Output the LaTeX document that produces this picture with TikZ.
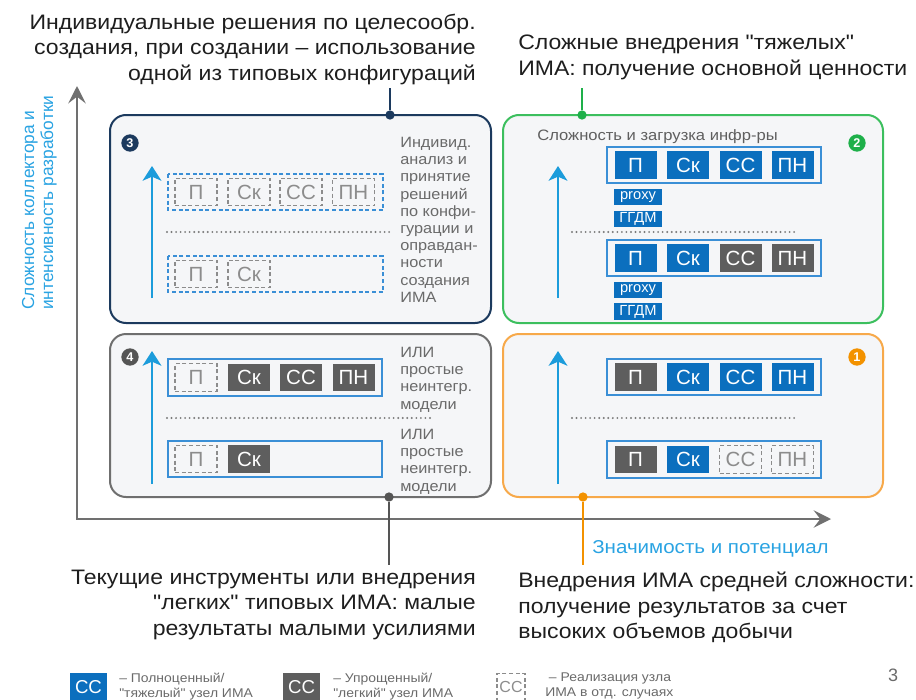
\documentclass[tikz,border=0pt]{standalone}
\usepackage{fontspec}
\setmainfont{Liberation Sans}[Ligatures=TeXOff]
\usetikzlibrary{arrows.meta}
\definecolor{navy}{HTML}{1C3A5E}
\definecolor{qgreen}{HTML}{3CBF5E}
\definecolor{badgegreen}{HTML}{1EB04A}
\definecolor{qgray}{HTML}{6F6F6F}
\definecolor{badgegray}{HTML}{555555}
\definecolor{qorange}{HTML}{F7A94A}
\definecolor{badgeorange}{HTML}{F39200}
\definecolor{boxfill}{HTML}{F5F6F8}
\definecolor{fillblue}{HTML}{0B6FBE}
\definecolor{fillgray}{HTML}{5E5E5E}
\definecolor{dashgray}{HTML}{8C8C8C}
\definecolor{frameblue}{HTML}{3A8FD6}
\definecolor{arrowblue}{HTML}{1C9CDB}
\definecolor{labelblue}{HTML}{2AA3E2}
\definecolor{axisgray}{HTML}{707070}
\definecolor{textdark}{HTML}{1E1E1E}
\definecolor{sidegray}{HTML}{6A6A6A}
\definecolor{dotgray}{HTML}{7A7A7A}
\tikzset{
  quad/.style={rounded corners=12pt, line width=1.5pt, fill=boxfill},
  cellb/.style={fill=fillblue, text=white, minimum width=31.5pt, minimum height=20.5pt, inner sep=0pt, font=\fontsize{15.4}{16}\selectfont},
  cellg/.style={cellb, fill=fillgray},
  celld/.style={draw=dashgray, dash pattern=on 3pt off 2pt, line width=0.9pt, text=dashgray, minimum width=31.5pt, minimum height=20.5pt, inner sep=0pt, font=\fontsize{15.4}{16}\selectfont},
  tagbox/.style={fill=fillblue, text=white, minimum width=36pt, minimum height=12.5pt, inner sep=0pt, font=\fontsize{11}{11}\selectfont},
  frame/.style={draw=frameblue, line width=1.1pt},
  dframe/.style={frame, dash pattern=on 3pt off 2pt},
  badge/.style={circle, inner sep=0pt, minimum size=13pt, text=white, font=\fontsize{9.5}{10}\selectfont\bfseries},
  uparrow/.style={draw=arrowblue, line width=1.9pt, -{Stealth[length=11pt,width=14pt,inset=3pt]}},
  dotline/.style={draw=dotgray, line width=1.6pt, line cap=round, dash pattern=on 0pt off 3.4pt},
  axis/.style={draw=axisgray, line width=1.8pt},
  title/.style={inner sep=0pt, text=textdark, xscale=1.1, font=\fontsize{15.7}{18.9}\selectfont},
  sidetext/.style={inner sep=0pt, text=sidegray, align=left, xscale=1.09, font=\fontsize{11.2}{12.9}\selectfont},
  dotnode/.style={circle, inner sep=0pt, minimum size=7pt},
  legtext/.style={inner sep=0pt, text=sidegray, align=left, xscale=1.1, font=\fontsize{9.5}{10.8}\selectfont},
  legcell/.style={minimum width=27.75pt, minimum height=21pt, inner sep=0pt, font=\fontsize{14}{14}\selectfont},
}
\begin{document}
\begin{tikzpicture}[x=0.75pt,y=-0.75pt]
\useasboundingbox (0,0) rectangle (916,699);

% quadrants
\draw[quad, draw=navy] (110,115) rectangle (491,323);
\draw[quad, draw=qgreen] (503,115) rectangle (883,323);
\draw[quad, draw=qgray] (110,334) rectangle (491,497);
\draw[quad, draw=qorange] (503,334) rectangle (883,497);

% axes
\coordinate (ytip) at (77,86);
\coordinate (origin) at (77,519);
\coordinate (xtip) at (831,519);
\draw[axis, {Stealth[length=13pt,width=13pt,inset=5pt]}-{Stealth[length=13pt,width=13pt,inset=5pt]}] (ytip) -- (origin) -- (xtip);

% badges
\node[badge, fill=navy] (b3) at (130,143) {3};
\node[badge, fill=badgegreen] (b2) at (857,143) {2};
\node[badge, fill=badgegray] (b4) at (130,357) {4};
\node[badge, fill=badgeorange] (b1) at (857,357) {1};

% blue arrows
\coordinate (a3s) at (152,298); \coordinate (a3e) at (152,166);
\coordinate (a2s) at (558,298); \coordinate (a2e) at (558,166);
\coordinate (a4s) at (152,484); \coordinate (a4e) at (152,351);
\coordinate (a1s) at (558,484); \coordinate (a1e) at (558,351);
\draw[uparrow] (a3s) -- (a3e);
\draw[uparrow] (a2s) -- (a2e);
\draw[uparrow] (a4s) -- (a4e);
\draw[uparrow] (a1s) -- (a1e);

% frames
\draw[dframe] (168,174) rectangle (383,210);
\draw[dframe] (168,256) rectangle (383,292);
\draw[frame] (607,147) rectangle (821,183);
\draw[frame] (607,240) rectangle (821,276);
\draw[frame] (168,359) rectangle (382,396);
\draw[frame] (168,441) rectangle (382,477);
\draw[frame] (607,359) rectangle (821,395);
\draw[frame] (607,441) rectangle (821,478);

% dotted separators
\draw[dotline] (167,232) -- (393,232);
\draw[dotline] (572,232) -- (798,232);
\draw[dotline] (167,418) -- (433,418);
\draw[dotline] (572,418) -- (798,418);

% box 3 cells
\node[celld] (c3a1) at (196,192) {П};
\node[celld] (c3a2) at (249,192) {Ск};
\node[celld] (c3a3) at (301,192) {СС};
\node[celld] (c3a4) at (353.5,192) {ПН};
\node[celld] (c3b1) at (196,274) {П};
\node[celld] (c3b2) at (249,274) {Ск};

% box 2 cells
\node[cellb] (c2a1) at (635.5,165) {П};
\node[cellb] (c2a2) at (688,165) {Ск};
\node[cellb] (c2a3) at (740.5,165) {СС};
\node[cellb] (c2a4) at (792.5,165) {ПН};
\node[cellb] (c2b1) at (635.5,258) {П};
\node[cellb] (c2b2) at (688,258) {Ск};
\node[cellg] (c2b3) at (740.5,258) {СС};
\node[cellg] (c2b4) at (792.5,258) {ПН};
\node[tagbox] (p2a) at (638,197) {proxy};
\node[tagbox] (g2a) at (638,219) {ГГДМ};
\node[tagbox] (p2b) at (638,290) {proxy};
\node[tagbox] (g2b) at (638,311.5) {ГГДМ};

% box 4 cells
\node[celld] (c4a1) at (196,377.5) {П};
\node[cellg] (c4a2) at (249,377.5) {Ск};
\node[cellg] (c4a3) at (301,377.5) {СС};
\node[cellg] (c4a4) at (353.5,377.5) {ПН};
\node[celld] (c4b1) at (196,459) {П};
\node[cellg] (c4b2) at (249,459) {Ск};

% box 1 cells
\node[cellg] (c1a1) at (635.5,377) {П};
\node[cellb] (c1a2) at (688,377) {Ск};
\node[cellb] (c1a3) at (740.5,377) {СС};
\node[cellb] (c1a4) at (792.5,377) {ПН};
\node[cellg] (c1b1) at (635.5,459.5) {П};
\node[cellb] (c1b2) at (688,459.5) {Ск};
\node[celld] (c1b3) at (740.5,459.5) {СС};
\node[celld] (c1b4) at (792.5,459.5) {ПН};

% side texts
\node[sidetext, anchor=north west] (s3) at (400,137) {Индивид.\\анализ и\\принятие\\решений\\по конфи-\\гурации и\\оправдан-\\ности\\создания\\ИМА};
\node[sidetext, anchor=north west] (s4a) at (400,347) {ИЛИ\\простые\\неинтегр.\\модели};
\node[sidetext, anchor=north west] (s4b) at (400,429) {ИЛИ\\простые\\неинтегр.\\модели};
\node[inner sep=0pt, text=sidegray!90!black, anchor=north west, xscale=1.1, font=\fontsize{11.3}{12}\selectfont] (inf) at (537,129) {Сложность и загрузка инфр-ры};

% titles
\node[title, anchor=north east, align=right] (t3) at (476,14) {Индивидуальные решения по целесообр.\\создания, при создании – использование\\одной из типовых конфигураций};
\node[title, anchor=north west, align=left] (t2) at (518,35) {Сложные внедрения "тяжелых"\\ИМА: получение основной ценности};
\node[title, anchor=north east, align=right] (t4) at (476,570) {Текущие инструменты или внедрения\\"легких" типовых ИМА: малые\\результаты малыми усилиями};
\node[title, anchor=north west, align=left] (t1) at (518,572) {Внедрения ИМА средней сложности:\\получение результатов за счет\\высоких объемов добычи};

% connectors
\coordinate (e3) at (390,88);
\coordinate (e2) at (582,88);
\coordinate (e4) at (389,565);
\coordinate (e1) at (583,565);
\node[dotnode, fill=navy] (d3) at (390,115) {};
\node[dotnode, fill=badgegreen] (d2) at (582,115) {};
\node[dotnode, fill=badgegray] (d4) at (389,497) {};
\node[dotnode, fill=badgeorange] (d1) at (583,497) {};
\draw[navy, line width=1.5pt] (d3) -- (e3);
\draw[badgegreen, line width=1.5pt] (d2) -- (e2);
\draw[badgegray, line width=1.5pt] (d4) -- (e4);
\draw[badgeorange, line width=1.5pt] (d1) -- (e1);

% axis labels
\node[inner sep=0pt, text=labelblue, anchor=north west, xscale=1.1, font=\fontsize{14}{14}\selectfont] (xl) at (592,540) {Значимость и потенциал};
\node[inner sep=0pt, text=labelblue, rotate=90, anchor=base west, font=\fontsize{13}{13}\selectfont] (yl1) at (34,310) {Сложность коллектора и};
\node[inner sep=0pt, text=labelblue, rotate=90, anchor=base west, font=\fontsize{13}{13}\selectfont] (yl2) at (53,310) {интенсивность разработки};

% legend
\node[legcell, fill=fillblue, text=white] (lg1) at (88.5,687) {СС};
\node[legtext, anchor=north west] (lt1) at (119,673) {– Полноценный/\\"тяжелый" узел ИМА};
\node[legcell, fill=fillgray, text=white] (lg2) at (301.5,687) {СС};
\node[legtext, anchor=north west] (lt2) at (333,673) {– Упрощенный/\\"легкий" узел ИМА};
\node[draw=dashgray, dash pattern=on 3pt off 2pt, line width=0.9pt, text=dashgray, minimum width=21pt, minimum height=20pt, inner sep=0pt, font=\fontsize{12}{12}\selectfont] (lg3) at (511,687) {СС};
\node[legtext, anchor=north west] (lt3) at (545,673) {\hspace*{2.5pt}– Реализация узла\\ИМА в отд. случаях};
\node[inner sep=0pt, text=sidegray, font=\fontsize{13.5}{14}\selectfont] (pg) at (893,675) {3};
\end{tikzpicture}
\end{document}
